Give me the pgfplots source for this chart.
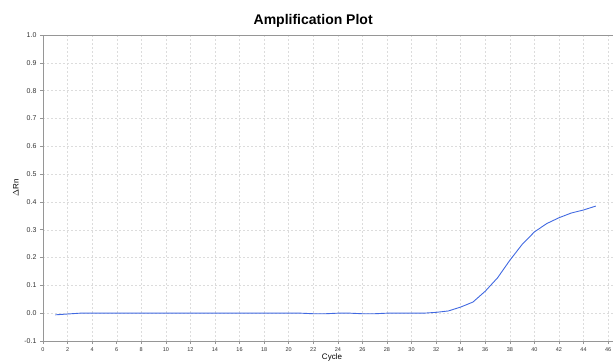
\documentclass[border=0pt]{standalone}
\usepackage{pgfplots}
\pgfplotsset{compat=1.18}
\usepackage{fontspec}
\setmainfont{Liberation Sans}
\definecolor{lineblue}{RGB}{65,105,225}
\definecolor{gridgray}{RGB}{220,220,220}
\definecolor{axgray}{RGB}{150,150,150}
\begin{document}
\begin{tikzpicture}[x=1pt,y=1pt]
\begin{axis}[
  at={(43pt,22pt)}, anchor=south west,
  scale only axis, width=570pt, height=306pt,
  xmin=0, xmax=46.4, ymin=-0.1, ymax=1.0,
  xtick={0,2,...,46}, ytick={-0.1,0,0.1,0.2,0.3,0.4,0.5,0.6,0.7,0.8,0.9,1.0},
  xtick pos=bottom, ytick pos=left,
  tick align=outside, major tick length=3pt,
  tick style={axgray, line width=0.5pt},
  axis line style={axgray, line width=0.6pt},
  grid=major, major grid style={gridgray, dash pattern=on 2pt off 2pt, line width=0.4pt},
  /pgf/number format/assume math mode=true,
  yticklabel style={/pgf/number format/fixed, /pgf/number format/precision=1, /pgf/number format/fixed zerofill, font=\fontsize{7}{8}\selectfont, text=black!80},
  xticklabel style={font=\fontsize{5.5}{6}\selectfont, text=black!80},
  xlabel={Cycle}, ylabel={$\Delta$Rn},
  xlabel style={font=\fontsize{8}{9}\selectfont, at={(axis description cs:0.507,0)}, yshift=-9pt},
  ylabel style={font=\fontsize{8}{9}\selectfont, yshift=-1pt},
  title={Amplification Plot},
  title style={font=\fontsize{14}{16}\selectfont\bfseries, at={(axis description cs:0.474,1)}, yshift=-2pt},
]
\addplot[lineblue, line width=0.9pt] coordinates {
(1,-0.006) (2,-0.003) (3,0) (4,0) (5,0) (6,0) (7,0) (8,0) (9,0) (10,0)
(11,0) (12,0) (13,0) (14,0) (15,0) (16,0) (17,0) (18,0) (19,0) (20,0)
(21,0) (22,-0.002) (23,-0.002) (24,0) (25,0) (26,-0.002) (27,-0.002) (28,0)
(29,0) (30,0) (31,0) (32,0.003) (33,0.008) (34,0.022) (35,0.040) (36,0.079)
(37,0.127) (38,0.190) (39,0.247) (40,0.292) (41,0.322) (42,0.343) (43,0.360)
(44,0.371) (45,0.385)
};
\end{axis}
\pgfresetboundingbox
\path[use as bounding box] (0,0) rectangle (613,363);
\end{tikzpicture}
\end{document}
